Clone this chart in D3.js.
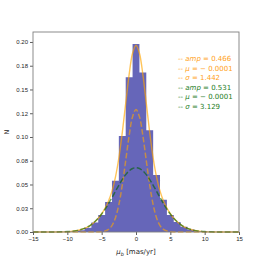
<!DOCTYPE html>
<html>
<head>
<meta charset="utf-8">
<style>
  body { margin: 0; background: #fff; }
  svg { font-family: "DejaVu Sans", sans-serif; }
  .tick text { font-size: 6px; fill: #262626; }
</style>
</head>
<body>
<svg width="266" height="266"></svg>
<script src="https://cdn.jsdelivr.net/npm/d3@7"></script>
<script>
// histogram bins (centres, width 1) and counts (normalised)
var binCentres = [-10, -9, -8, -7, -6, -5, -4, -3, -2, -1, 0, 1, 2, 3, 4, 5, 6, 7, 8, 9, 10];
var binHeights = [0.0002, 0.0006, 0.0018, 0.0045, 0.0100, 0.0180, 0.0316, 0.0540, 0.1010, 0.1630, 0.1980,
                  0.1680, 0.1070, 0.0600, 0.0340, 0.0180, 0.0105, 0.0055, 0.0025, 0.0008, 0.0003];

// fitted curves
var curveX = [-15, -13, -12, -11, -10, -9.5, -9, -8.5, -8, -7.5, -7, -6.5, -6, -5.5, -5, -4.5, -4, -3.5, -3, -2.5, -2, -1.5, -1, -0.5,
              0, 0.5, 1, 1.5, 2, 2.5, 3, 3.5, 4, 4.5, 5, 5.5, 6, 6.5, 7, 7.5, 8, 8.5, 9, 9.5, 10, 11, 12, 13, 15];
var narrowY = [0, 0, 0, 0, 0, 0, 0, 0, 0, 0, 0, 0, 0.00002, 0.00009, 0.00032, 0.00099, 0.00275, 0.0068, 0.0148, 0.0287, 0.0493, 0.0750, 0.1014, 0.1214,
               0.1289, 0.1214, 0.1014, 0.0750, 0.0493, 0.0287, 0.0148, 0.0068, 0.00275, 0.00099, 0.00032, 0.00009, 0.00002, 0, 0, 0, 0, 0, 0, 0, 0, 0, 0, 0, 0];
var wideY = [0, 0.00001, 0.00004, 0.00014, 0.00041, 0.00067, 0.0011, 0.0017, 0.0026, 0.0038, 0.0055, 0.0078, 0.0108, 0.0144, 0.0189, 0.0241, 0.0299, 0.0362, 0.0428, 0.0492, 0.0552, 0.0604, 0.0643, 0.0668,
             0.0677, 0.0668, 0.0643, 0.0604, 0.0552, 0.0492, 0.0428, 0.0362, 0.0299, 0.0241, 0.0189, 0.0144, 0.0108, 0.0078, 0.0055, 0.0038, 0.0026, 0.0017, 0.0011, 0.00067, 0.00041, 0.00014, 0.00004, 0.00001, 0];
var totalY = [0, 0.00001, 0.00004, 0.00014, 0.00041, 0.00067, 0.0011, 0.0017, 0.0026, 0.0038, 0.0055, 0.0078, 0.0108, 0.0145, 0.0192, 0.0251, 0.0327, 0.0430, 0.0576, 0.0779, 0.1045, 0.1354, 0.1657, 0.1882,
              0.1966, 0.1882, 0.1657, 0.1354, 0.1045, 0.0779, 0.0576, 0.0430, 0.0327, 0.0251, 0.0192, 0.0145, 0.0108, 0.0078, 0.0055, 0.0038, 0.0026, 0.0017, 0.0011, 0.00067, 0.00041, 0.00014, 0.00004, 0.00001, 0];

var xTicks = [-15, -10, -5, 0, 5, 10, 15];
var yTicks = [0, 0.025, 0.05, 0.075, 0.1, 0.125, 0.15, 0.175, 0.2];
var yTickLabels = ["0.00", "0.03", "0.05", "0.08", "0.10", "0.12", "0.15", "0.18", "0.20"];

var legendRows = [
  { name: "amp", value: "0.466", color: "#ff9f1a" },
  { name: "\u03bc", value: "\u2212 0.0001", color: "#ff9f1a" },
  { name: "\u03c3", value: "1.442", color: "#ff9f1a" },
  { name: "amp", value: "0.531", color: "#1e7d1e" },
  { name: "\u03bc", value: "\u2212 0.0001", color: "#1e7d1e" },
  { name: "\u03c3", value: "3.129", color: "#1e7d1e" }
];

var svg = d3.select("svg");
var mLeft = 33, mRight = 239, mTop = 32, mBottom = 232;

var x = d3.scaleLinear().domain([-15, 15]).range([mLeft, mRight]);
var y = d3.scaleLinear().domain([0, 0.2105]).range([mBottom, mTop]);

// bars: one path so adjacent bins have no seams
var barPath = d3.path();
binCentres.forEach(function (d, i) {
  var x0 = x(d - 0.5), x1 = x(d + 0.5), y0 = y(binHeights[i]);
  barPath.rect(x0, y0, x1 - x0, mBottom - y0);
});
svg.append("path")
  .attr("d", barPath.toString())
  .attr("fill", "#6666b9")
  .attr("fill-rule", "nonzero");

var line = d3.line()
  .x(function (d) { return x(d[0]); })
  .y(function (d) { return y(d[1]); })
  .curve(d3.curveCatmullRom);

function pts(ys) { return curveX.map(function (v, i) { return [v, ys[i]]; }); }

svg.append("path")
  .attr("d", line(pts(totalY)))
  .attr("fill", "none")
  .attr("stroke", "#ffa500")
  .attr("stroke-opacity", 0.65)
  .attr("stroke-width", 1.4);

svg.append("path")
  .attr("d", line(pts(narrowY)))
  .attr("fill", "none")
  .attr("stroke", "#ffa500")
  .attr("stroke-opacity", 0.6)
  .attr("stroke-width", 1.5)
  .attr("stroke-dasharray", "5.5,2.4");

svg.append("path")
  .attr("d", line(pts(wideY)))
  .attr("fill", "none")
  .attr("stroke", "#006400")
  .attr("stroke-opacity", 0.6)
  .attr("stroke-width", 1.5)
  .attr("stroke-dasharray", "5.5,2.4");

// axes
var xAxis = svg.append("g")
  .attr("transform", "translate(0," + mBottom + ")")
  .call(d3.axisBottom(x).tickValues(xTicks).tickSize(3).tickPadding(2)
    .tickFormat(function (d) { return d < 0 ? "\u2212" + Math.abs(d) : d; }));
var yAxis = svg.append("g")
  .attr("transform", "translate(" + mLeft + ",0)")
  .call(d3.axisLeft(y).tickValues(yTicks).tickSize(3).tickPadding(2)
    .tickFormat(function (d, i) { return yTickLabels[i]; }));
[xAxis, yAxis].forEach(function (a) {
  a.select(".domain").remove();
  a.selectAll(".tick line").attr("stroke", "#333").attr("stroke-width", 0.8);
});

// frame
svg.append("rect")
  .attr("x", mLeft).attr("y", mTop)
  .attr("width", mRight - mLeft).attr("height", mBottom - mTop)
  .attr("fill", "none").attr("stroke", "#7f7f7f").attr("stroke-width", 0.9);

// labels
svg.append("text")
  .attr("transform", "translate(9," + (mTop + mBottom) / 2 + ") rotate(-90)")
  .attr("text-anchor", "middle")
  .attr("font-size", 6.5)
  .attr("fill", "#262626")
  .text("N");

var xl = svg.append("text")
  .attr("x", (mLeft + mRight) / 2).attr("y", 254)
  .attr("text-anchor", "middle")
  .attr("font-size", 7)
  .attr("fill", "#262626");
xl.append("tspan").attr("font-style", "italic").text("\u03bc");
xl.append("tspan").attr("font-style", "italic").attr("font-size", 5).attr("dy", 1.5).text("b");
xl.append("tspan").attr("dy", -1.5).text(" [mas/yr]");

// legend
var lg = svg.append("g").attr("transform", "translate(178,61)");
legendRows.forEach(function (r, i) {
  var t = lg.append("text")
    .attr("y", i * 9.6)
    .attr("font-size", 7)
    .attr("fill", r.color);
  t.append("tspan").text("-- ");
  t.append("tspan").attr("font-style", "italic").text(r.name);
  t.append("tspan").text(" = " + r.value);
});
</script>
</body>
</html>
